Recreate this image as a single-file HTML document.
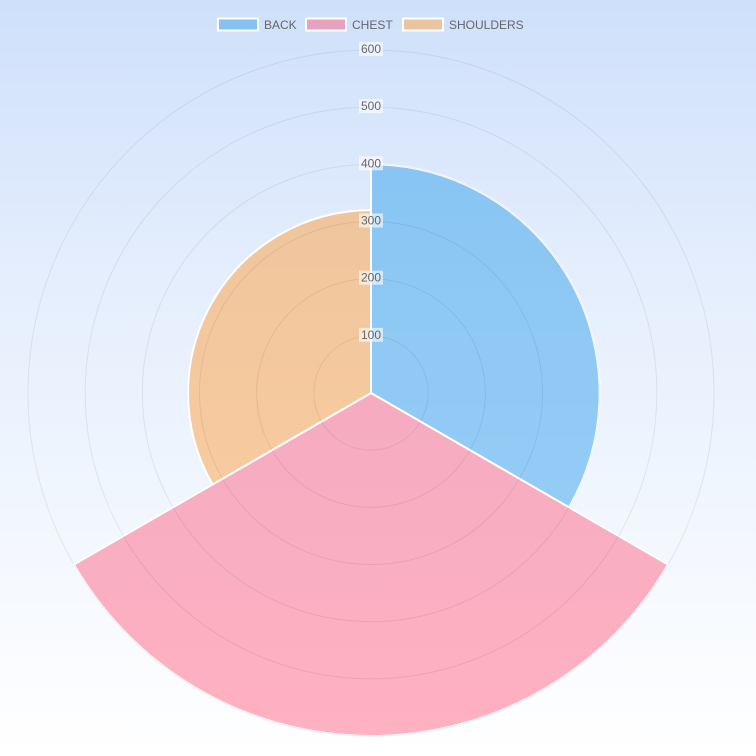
<!DOCTYPE html>
<html><head><meta charset="utf-8"><style>
html,body{margin:0;padding:0;}
body{width:756px;height:756px;overflow:hidden;background:linear-gradient(to bottom,#cfe0fb 0%,#e6effd 40%,#ffffff 100%);font-family:"Liberation Sans",sans-serif;}
svg{position:absolute;left:0;top:0;}
</style></head><body>
<svg id="chart" width="756" height="756" xmlns="http://www.w3.org/2000/svg"></svg>
<script>
const categories = ["BACK", "CHEST", "SHOULDERS"];
const values = [400, 600, 320];
const tickLabels = [100, 200, 300, 400, 500, 600];
const fills = ["rgba(54,162,235,0.5)", "rgba(255,99,132,0.5)", "rgba(255,159,64,0.5)"];
const legendFills = ["#85c1f3", "#e8a2c0", "#ebc39f"];

const NS = "http://www.w3.org/2000/svg";
const svg = document.getElementById("chart");
const cx = 371, cy = 393, maxR = 343, maxV = 600;
function rScale(v){ return v / maxV * maxR; }
function mk(tag, attrs){ const e = document.createElementNS(NS, tag); for (const k in attrs) e.setAttribute(k, attrs[k]); svg.appendChild(e); return e; }

const n = categories.length;
const step = 2 * Math.PI / n;
categories.forEach((c, i) => {
  const a0 = -Math.PI / 2 + i * step, a1 = a0 + step;
  const r = rScale(values[i]);
  const x0 = cx + r * Math.cos(a0), y0 = cy + r * Math.sin(a0);
  const x1 = cx + r * Math.cos(a1), y1 = cy + r * Math.sin(a1);
  const p = mk("path", {d: `M${cx},${cy} L${x0},${y0} A${r},${r} 0 0 1 ${x1},${y1} Z`, fill: fills[i], stroke: "#fff", "stroke-width": 2});
  
  
});

tickLabels.forEach(t => {
  const g = mk("circle", {cx: cx, cy: cy, r: rScale(t), fill: "none", stroke: "rgba(0,0,0,0.07)", "stroke-width": 1});
  
  
});

tickLabels.forEach(t => {
  const y = cy - rScale(t);
  const bg = mk("rect", {x: cx - 12, y: y - 8, width: 24, height: 14, fill: "rgba(255,255,255,0.6)"});
  
  
  const tx = mk("text", {x: cx, y: y + 3, "text-anchor": "middle", "font-size": 12, fill: "#666"});
  tx.textContent = t;
  
  
});

const legendX = [218, 306, 403];
categories.forEach((c, i) => {
  const b = mk("rect", {x: legendX[i], y: 18.5, width: 40, height: 12, fill: legendFills[i], stroke: "#fff", "stroke-width": 2});
  
  
  const t = mk("text", {x: legendX[i] + 46, y: 29, "font-size": 12, fill: "#666"});
  t.textContent = c;
  
  
});
</script>
</body></html>
